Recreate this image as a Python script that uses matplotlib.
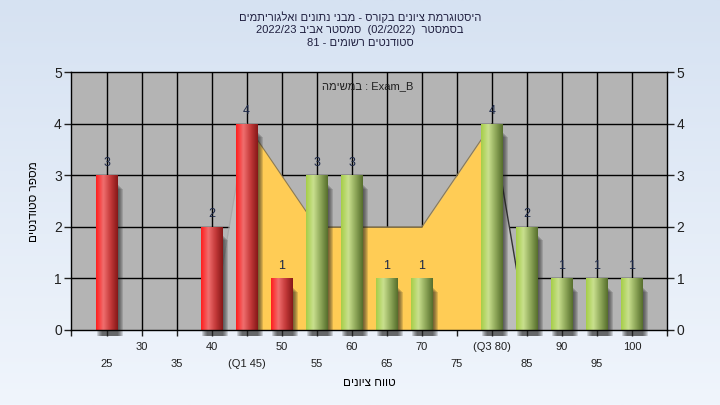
import numpy as np
import matplotlib
matplotlib.use("Agg")
import matplotlib.pyplot as plt
from matplotlib.colors import LinearSegmentedColormap
from matplotlib.patches import Rectangle

plt.rcParams['font.family'] = ['Liberation Sans', 'DejaVu Sans']

def heb(s):
    # matplotlib has no bidi, so reverse Hebrew runs by hand
    return s[::-1]

# data
grades = [25, 40, 45, 50, 55, 60, 65, 70, 80, 85, 90, 95, 100]
counts = [3, 2, 4, 1, 3, 3, 1, 1, 4, 2, 1, 1, 1]
pass_mark = 55
q1, q3 = 45, 80
trend_x = [40, 45, 50, 55, 60, 65, 70, 75, 80, 85]
trend_y = [0, 4, 3, 2, 2, 2, 2, 3, 4, 0]
tick_top = [30, 40, 50, 60, 70, 80, 90, 100]
tick_bot = [25, 35, 45, 55, 65, 75, 85, 95]

title1 = heb("היסטוגרמת ציונים בקורס - מבני נתונים ואלגוריתמים")
title2 = "2022/23 " + heb("סמסטר אביב") + "  (02/2022)  " + heb("בסמסטר")
title3 = "81 - " + heb("סטודנטים רשומים")
legend_txt = heb("במשימה") + " : Exam_B"
xlab = heb("טווח ציונים")
ylab = heb("מספר סטודנטים")

fig = plt.figure(figsize=(7.2, 4.05), dpi=100)

# background gradient
bg = fig.add_axes([0, 0, 1, 1], zorder=-10)
grad = np.linspace(0, 1, 256).reshape(-1, 1)
top_c = np.array([214, 226, 242]) / 255.
bot_c = np.array([240, 245, 252]) / 255.
img = top_c[None, None, :] * (1 - grad[:, :, None]) + bot_c[None, None, :] * grad[:, :, None]
bg.imshow(img, aspect='auto', extent=[0, 1, 0, 1])
bg.axis('off')

ax = fig.add_axes([0.0993, 0.1852, 0.8271, 0.6358])
ax.set_facecolor('#B4B4B4')

red_cm = LinearSegmentedColormap.from_list('r', ['#FF1E1E', '#F06E6E', '#C43A3A', '#861818'])
grn_cm = LinearSegmentedColormap.from_list('g', ['#A6CE48', '#C9E08E', '#8FA85A', '#566E2C'])
hgrad = np.linspace(0, 1, 64).reshape(1, -1)

bw = 3.0
px = 1 / 7.0      # one pixel in x units
py = 1 / 51.3     # one pixel in y units
for g, c in zip(grades, counts):
    # soft shadow, darker near the bar
    for k in range(6):
        ax.add_patch(Rectangle((g - bw / 2 + 1 * px + k * px, -6 * py),
                               bw, c - 2 * py - k * py, facecolor='#202020',
                               alpha=0.16, lw=0, zorder=3, clip_on=False))
    cm = red_cm if g < pass_mark else grn_cm
    ax.imshow(hgrad, cmap=cm, aspect='auto', extent=[g - bw / 2, g + bw / 2, 0, c],
              zorder=4, interpolation='bilinear')
    ax.text(g, c + 0.25, str(c), ha='center', va='center', fontsize=9,
            color='#1C2848', zorder=6)

# trend area behind the bars
tx = np.array(trend_x)
ty = np.array(trend_y)
inner = (tx >= q1) & (tx <= q3)
ax.fill_between(tx[inner], 0, ty[inner], color='#FFCC55', lw=0, zorder=2)
ax.plot(tx[inner], ty[inner], color='#8A7A55', lw=0.8, zorder=2)
ax.fill_between(tx[:2], 0, ty[:2], color='#BDBDBD', lw=0, zorder=2)
ax.plot(tx[:2], ty[:2], color='#A8A8A8', lw=0.8, zorder=2)
ax.fill_between(tx[-2:], 0, ty[-2:], color='#BDBDBD', lw=0, zorder=2)
ax.plot(tx[-2:], ty[-2:], color='#333333', lw=1.0, zorder=2)

ax.set_xlim(20, 105)
ax.set_ylim(0, 5)

# grid
for x in range(25, 105, 5):
    ax.axvline(x, color='black', lw=1, zorder=1)
for y in range(1, 5):
    ax.axhline(y, color='black', lw=1, zorder=1)

ax.set_yticks(range(6))
ax.tick_params(axis='y', length=5, width=1, labelsize=10, pad=2, right=True,
               labelright=True, colors='#202020')

def lab(v):
    if v == q1:
        return '(Q1 %d)' % v
    if v == q3:
        return '(Q3 %d)' % v
    return str(v)

ax.set_xticks([20] + tick_top + [105])
ax.set_xticklabels([''] + [lab(v) for v in tick_top] + [''])
ax.set_xticks(tick_bot, minor=True)
ax.set_xticklabels([lab(v) for v in tick_bot], minor=True)
ax.tick_params(axis='x', which='major', length=4, width=1, labelsize=8, pad=5, colors='#202020')
ax.tick_params(axis='x', which='minor', length=4, width=1, labelsize=8, pad=17, colors='#202020')

for s in ax.spines.values():
    s.set_color('black')
    s.set_linewidth(1)
    s.set_zorder(5)

ax.set_xlabel(xlab, fontsize=8.5, labelpad=6)
ax.set_ylabel(ylab, fontsize=8.5, labelpad=10)

ax.text(0.498, 0.947, legend_txt, transform=ax.transAxes, ha='center', va='center',
        fontsize=8, color='#202020', zorder=7)

fig.text(0.5, 0.958, title1, ha='center', va='center', fontsize=8, color='#202040')
fig.text(0.5, 0.926, title2, ha='center', va='center', fontsize=8, color='#202040')
fig.text(0.5, 0.894, title3, ha='center', va='center', fontsize=8, color='#202040')

fig.savefig('out.png', dpi=100)
